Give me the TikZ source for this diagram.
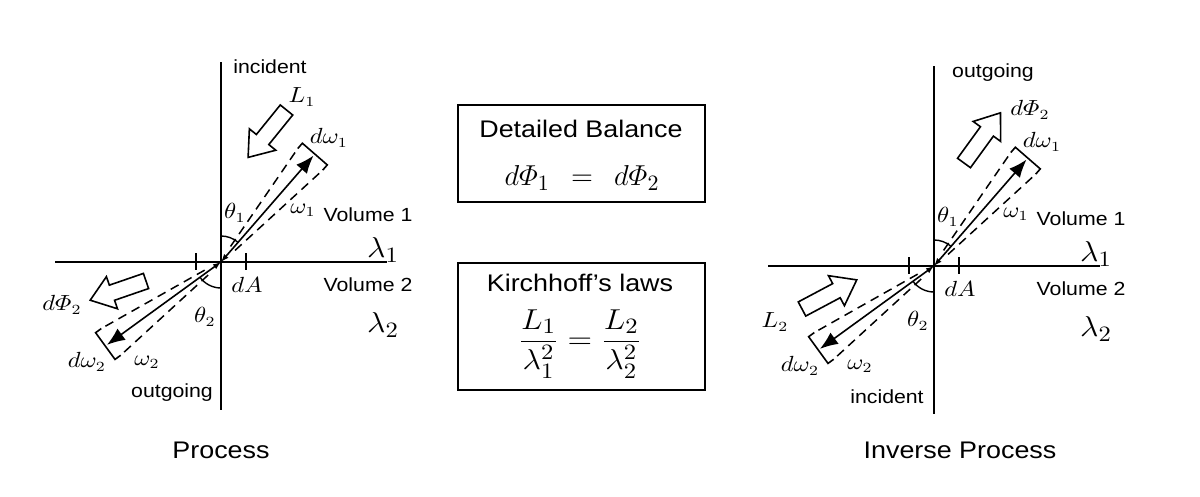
\documentclass[tikz,border=0pt]{standalone}
\usepackage{amsmath}
\usepackage{graphicx}
\usepackage{fontspec}
\setmainfont{Liberation Sans}
\usetikzlibrary{arrows.meta}
\newcommand\hs[1]{\scalebox{1.12}[1]{#1}}
\newcommand\mPhi{\varPhi}
\tikzset{
  axis/.style={line width=1pt},
  rayline/.style={line width=0.8pt,{Latex[length=4pt,width=3pt]}-{Latex[length=9pt,width=7pt]}},
  cone/.style={line width=0.75pt,dash pattern=on 4.5pt off 3pt},
  brk/.style={line width=0.8pt},
  harrow/.style={line width=0.8pt,line join=miter},
  smalltxt/.style={inner sep=0pt,font=\fontsize{9.5}{11}\selectfont},
  bigtxt/.style={inner sep=0pt,font=\fontsize{12}{14}\selectfont},
  smath/.style={inner sep=0pt,font=\fontsize{10.5}{12}\selectfont},
  bmath/.style={inner sep=0pt,font=\fontsize{15}{17}\selectfont},
  boxstyle/.style={draw,line width=1pt,inner sep=0pt,minimum width=123.5pt}
}
% hollow block arrow: tail point, angle, length
\newcommand\hollowarrow[3]{%
  \begin{scope}[shift={#1},rotate=#2]
    \draw[harrow] (0,-8) -- ({#3-23},-8) -- ({#3-23},-17) -- (#3,0)
      -- ({#3-23},17) -- ({#3-23},8) -- (0,8) -- cycle;
  \end{scope}}
% common part of each diagram: prefix, origin
\newcommand\refrdiagram[2]{%
  \begin{scope}[shift={#2}]
    \coordinate (#1o) at (0,0);
    \coordinate (#1vt) at (0,200);
    \coordinate (#1vb) at (0,-148);
    \coordinate (#1hl) at (-166,0);
    \coordinate (#1hr) at (166,0);
    \draw[axis] (#1vb) -- (#1vt);
    \draw[axis] (#1hl) -- (#1hr);
    \coordinate (#1ta) at (-25,-8); \coordinate (#1tb) at (-25,9);
    \coordinate (#1tc) at (25,-8);  \coordinate (#1td) at (25,9);
    \draw[axis] (#1ta) -- (#1tb);
    \draw[axis] (#1tc) -- (#1td);
    % ray 1
    \begin{scope}[rotate=49]
      \coordinate (#1r1) at (141,0);
      \draw[rayline] (#1o) -- (#1r1);
      \coordinate (#1b1a) at (136,16.5); \coordinate (#1b1b) at (143,16.5);
      \coordinate (#1b1c) at (143,-16.5); \coordinate (#1b1d) at (136,-16.5);
      \draw[brk] (#1b1a) -- (#1b1b) -- (#1b1c) -- (#1b1d);
      \coordinate (#1c1a) at (18,3); \coordinate (#1c1b) at (18,-3);
      \draw[cone] (#1c1a) -- (#1b1a);
      \draw[cone] (#1c1b) -- (#1b1d);
    \end{scope}
    % ray 2
    \begin{scope}[rotate=216]
      \coordinate (#1r2) at (141,0);
      \draw[rayline] (#1o) -- (#1r2);
      \coordinate (#1b2a) at (136,16.5); \coordinate (#1b2b) at (143,16.5);
      \coordinate (#1b2c) at (143,-16.5); \coordinate (#1b2d) at (136,-16.5);
      \draw[brk] (#1b2a) -- (#1b2b) -- (#1b2c) -- (#1b2d);
      \coordinate (#1c2a) at (18,3); \coordinate (#1c2b) at (18,-3);
      \draw[cone] (#1c2a) -- (#1b2a);
      \draw[cone] (#1c2b) -- (#1b2d);
    \end{scope}
    % angle arcs
    \draw[line width=0.7pt] (0,26) arc[start angle=90,end angle=49,radius=13pt];
    \draw[line width=0.7pt] (216:13pt) arc[start angle=216,end angle=270,radius=13pt];
    % labels
    \node[smath] (#1dw1) at (108,124) {\hs{$d\omega_1$}};
    \node[smath] (#1th1) at (14,49) {\hs{$\theta_1$}};
    \node[smath] (#1w1) at (82,52) {\hs{$\omega_1$}};
    \node[smalltxt] (#1v1) at (147,47) {\hs{Volume 1}};
    \node[bmath] (#1l1) at (162,12) {\hs{$\lambda_1$}};
    \node[smath] (#1dA) at (26,-23) {\hs{$dA$}};
    \node[smalltxt] (#1v2) at (147,-23) {\hs{Volume 2}};
    \node[bmath] (#1l2) at (162,-63) {\hs{$\lambda_2$}};
    \node[smath] (#1th2) at (-16,-55) {\hs{$\theta_2$}};
    \node[smath] (#1dw2) at (-134,-100) {\hs{$d\omega_2$}};
    \node[smath] (#1w2) at (-74,-100) {\hs{$\omega_2$}};
  \end{scope}}

\begin{document}
\begin{tikzpicture}[x=0.5pt,y=0.5pt]
\useasboundingbox (0,0) rectangle (1200,497);

% ---------- Process ----------
\refrdiagram{P}{(221,235)}
\begin{scope}[shift={(221,235)}]
  \node[smalltxt] (Pinc) at (49,195) {\hs{incident}};
  \node[smalltxt] (Pout) at (-49,-131) {\hs{outgoing}};
  \node[smath] (PL1) at (81,165) {\hs{$L_1$}};
  \node[smath] (PdP2) at (-159,-43) {\hs{$d\mPhi_2$}};
  \hollowarrow{(65.5,152)}{231}{61}
  \hollowarrow{(-75,-19)}{199}{59}
\end{scope}
\node[bigtxt] (Ptitle) at (221,47) {\hs{Process}};

% ---------- Inverse Process ----------
\refrdiagram{I}{(934,231)}
\begin{scope}[shift={(934,231)}]
  \node[smalltxt] (Iout) at (59,193) {\hs{outgoing}};
  \node[smalltxt] (Iinc) at (-47,-131) {\hs{incident}};
  \node[smath] (IdP2) at (96,156) {\hs{$d\mPhi_2$}};
  \node[smath] (IL2) at (-159,-56) {\hs{$L_2$}};
  \hollowarrow{(30,103)}{54}{62}
  \hollowarrow{(-132,-43)}{28}{62}
\end{scope}
\node[bigtxt] (Ititle) at (960,47) {\hs{Inverse Process}};

% ---------- centre boxes ----------
\node[boxstyle,minimum height=48.5pt] (db) at (581.5,343.5) {};
\node[bigtxt] (dbt) at (581,368) {\hs{Detailed Balance}};
\node[inner sep=0pt,font=\fontsize{15}{17}\selectfont] (dbe) at (582,319)
  {$d\mPhi_1\ \,=\ \,d\mPhi_2$};

\node[boxstyle,minimum height=63.5pt] (kl) at (581.5,170.5) {};
\node[bigtxt] (klt) at (580,214) {\hs{Kirchhoff's laws}};
\node[inner sep=0pt,font=\fontsize{15}{17}\selectfont] (kle) at (580,153)
  {\hs{$\dfrac{L_1}{\lambda_1^2}=\dfrac{L_2}{\lambda_2^2}$}};
\end{tikzpicture}
\end{document}
